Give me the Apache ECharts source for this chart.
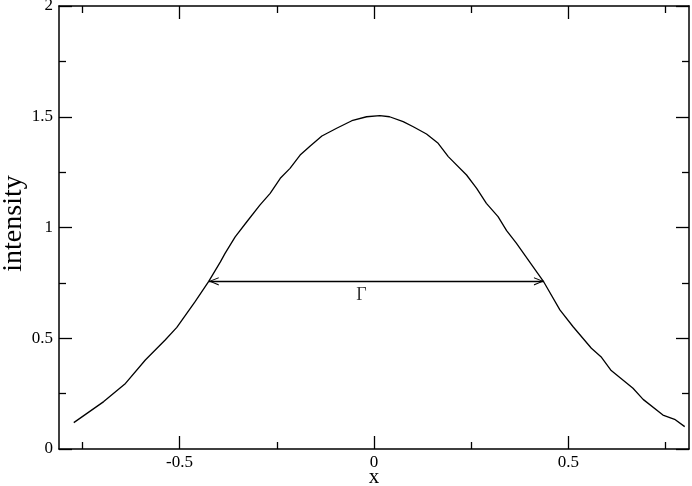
<!DOCTYPE html>
<html>
<head>
<meta charset="utf-8">
<script src="https://cdn.jsdelivr.net/npm/echarts@6/dist/echarts.min.js"></script>
<style>
  html, body { margin: 0; padding: 0; background: #fff; }
  #main { width: 692px; height: 486px; }
</style>
</head>
<body>
<div id="main"></div>
<script>
// data
const xValues = [-0.772, -0.695, -0.639, -0.588, -0.537, -0.507, -0.460, -0.425, -0.395, -0.383,
  -0.357, -0.327, -0.293, -0.267, -0.241, -0.216, -0.190, -0.164, -0.134, -0.096,
  -0.057, -0.019, 0.015, 0.040, 0.075, 0.101, 0.135, 0.165, 0.191, 0.238,
  0.264, 0.289, 0.319, 0.341, 0.366, 0.401, 0.437, 0.478, 0.512, 0.559,
  0.585, 0.610, 0.666, 0.692, 0.743, 0.773, 0.799]
const intensity = [0.119, 0.214, 0.296, 0.402, 0.492, 0.549, 0.665, 0.757, 0.845, 0.883,
  0.958, 1.026, 1.102, 1.154, 1.222, 1.267, 1.327, 1.368, 1.413, 1.448,
  1.482, 1.500, 1.505, 1.500, 1.478, 1.455, 1.422, 1.380, 1.320, 1.237,
  1.177, 1.109, 1.049, 0.986, 0.929, 0.843, 0.753, 0.628, 0.552, 0.455,
  0.414, 0.354, 0.274, 0.224, 0.153, 0.134, 0.101]

const xMajorTicks = [-0.5, 0, 0.5]
const xMinorTicks = [-0.75, -0.25, 0.25, 0.75]
const xRange = [-0.81, 0.81]
const yRange = [0, 2]

// FWHM arrow and its label
const arrowStart = [-0.425, 0.757]
const arrowEnd = [0.437, 0.757]
const gammaPos = [-0.032, 0.695]

const serif = '"Liberation Serif", "DejaVu Serif", serif'
const black = '#000'

// open arrow head, tip sits in the middle of the box
const arrowHead = 'path://M5,-12L5.01,-12L5,-11.99Z M5,0L10,12L8.6,12L5,2.8L1.4,12L0,12Z'

function xAxisOf(position, ticks, len, showLine, showLabel) {
  return {
    type: 'value', position: position, min: xRange[0], max: xRange[1],
    name: showLabel ? 'x' : '', nameLocation: 'middle', nameGap: 18, nameMoveOverlap: false,
    nameTextStyle: { fontFamily: serif, fontSize: 21, color: black },
    axisLine: { show: showLine, onZero: false, lineStyle: { color: black, width: 1.5 } },
    axisTick: { show: true, inside: true, length: len, customValues: ticks, lineStyle: { color: black, width: 1.3 } },
    axisLabel: { show: showLabel, customValues: ticks, margin: 5, fontFamily: serif, fontSize: 17, color: black },
    splitLine: { show: false }
  }
}

function yAxisOf(position, showLabel) {
  return {
    type: 'value', position: position, min: yRange[0], max: yRange[1], interval: 0.5,
    name: showLabel ? 'intensity' : '', nameLocation: 'middle', nameGap: 31, nameMoveOverlap: false,
    nameTextStyle: { fontFamily: serif, fontSize: 28, color: black, padding: [0, 0, 0, 8] },
    axisLine: { show: true, onZero: false, lineStyle: { color: black, width: 1.5 } },
    axisTick: { show: true, inside: true, length: 13, lineStyle: { color: black, width: 1.3 } },
    minorTick: { show: true, splitNumber: 2, length: 7, lineStyle: { color: black, width: 1.3 } },
    axisLabel: { show: showLabel, margin: 6, fontFamily: serif, fontSize: 17, color: black },
    splitLine: { show: false }
  }
}

let myChart = echarts.init(document.getElementById('main'))

let option = {
  animation: false,
  backgroundColor: '#fff',
  grid: { left: 59, right: 3, top: 6, bottom: 37, containLabel: false, outerBoundsMode: 'none' },
  xAxis: [
    xAxisOf('bottom', xMajorTicks, 13, true, true),
    xAxisOf('bottom', xMinorTicks, 7, false, false),
    xAxisOf('top', xMajorTicks, 13, true, false),
    xAxisOf('top', xMinorTicks, 7, false, false)
  ],
  yAxis: [yAxisOf('left', true), yAxisOf('right', false)],
  series: [
    {
      type: 'line',
      data: xValues.map((x, i) => [x, intensity[i]]),
      showSymbol: false,
      symbol: 'none',
      lineStyle: { color: black, width: 1.3 },
      markLine: {
        silent: true,
        symbol: [arrowHead, arrowHead],
        symbolSize: 20,
        symbolKeepAspect: true,
        lineStyle: { color: black, width: 1.3, type: 'solid' },
        itemStyle: { color: black },
        label: { show: false },
        data: [[{ coord: arrowStart }, { coord: arrowEnd }]]
      }
    },
    {
      type: 'scatter',
      data: [gammaPos],
      symbolSize: 0,
      silent: true,
      label: { show: true, position: 'inside', formatter: 'Γ', fontFamily: serif, fontSize: 18, color: black }
    }
  ]
}

myChart.setOption(option)
</script>
</body>
</html>
